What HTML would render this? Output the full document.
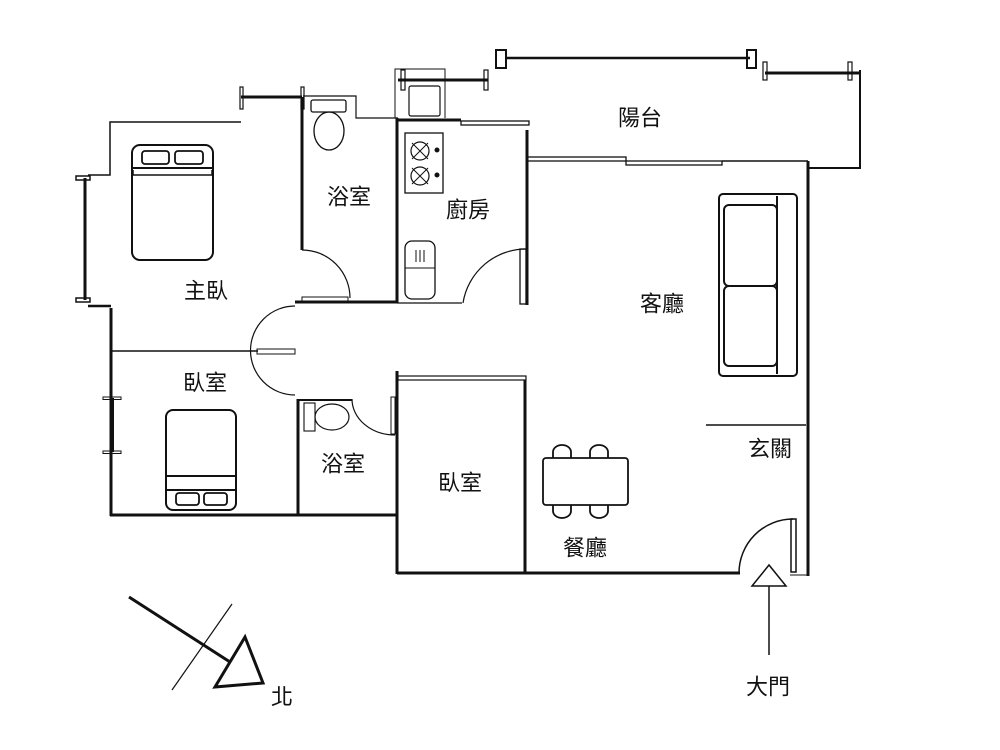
<!DOCTYPE html>
<html><head><meta charset="utf-8"><style>
html,body{margin:0;padding:0;background:#fff;}
svg{display:block}
text{font-family:"Liberation Sans","Noto Sans CJK TC",sans-serif;font-size:22px;fill:#111;text-anchor:middle;dominant-baseline:central}
</style></head><body>
<svg width="1000" height="750" viewBox="0 0 1000 750" xmlns="http://www.w3.org/2000/svg" fill="none" stroke="#111">
<g stroke-width="1.5">
<polyline points="241,122 110,122 110,175 88,175"/>
<line x1="85" y1="178" x2="85" y2="300" stroke-width="3"/>
<rect x="76" y="176" width="14" height="4" stroke-width="1.5"/>
<rect x="76" y="298" width="14" height="4" stroke-width="1.5"/>
<line x1="88" y1="306" x2="111" y2="306" stroke-width="2.5"/>
</g>
<line x1="111" y1="308" x2="111" y2="516" stroke-width="3"/>
<line x1="241" y1="97" x2="302" y2="97" stroke-width="3"/>
<rect x="240" y="87" width="3" height="22" stroke-width="1.2"/>
<rect x="301" y="87" width="3" height="22" stroke-width="1.2"/>
<line x1="302" y1="97" x2="302" y2="250" stroke-width="3"/>
<polyline points="303,96 356,96 356,118 398,118" stroke-width="1.2"/>
<path d="M302,250 A48,48 0 0 1 350,298" stroke-width="1.2"/>
<rect x="302" y="297" width="46" height="4" stroke-width="1"/>
<line x1="295" y1="302" x2="398" y2="302" stroke-width="3"/>
<rect x="311" y="100" width="35" height="12" rx="2" stroke-width="1.3"/>
<ellipse cx="329" cy="131" rx="15" ry="19" stroke-width="1.3"/>
<line x1="397" y1="118" x2="397" y2="303" stroke-width="3"/>
<line x1="397" y1="120" x2="461" y2="120" stroke-width="3"/>
<rect x="461" y="121" width="68" height="4" stroke-width="1.3"/>
<line x1="527" y1="130" x2="527" y2="158" stroke-width="3"/>
<rect x="520" y="249" width="6" height="55" stroke-width="1.3"/>
<path d="M463,303 A64,64 0 0 1 527,249" stroke-width="1.2"/>
<line x1="397" y1="303" x2="462" y2="303" stroke-width="1.2"/>
<polyline points="395,118 395,69 445,69 445,118" stroke-width="1"/>
<rect x="409" y="86" width="31" height="30" rx="2" stroke-width="1.2"/>
<line x1="398" y1="80" x2="488" y2="80" stroke-width="3"/>
<rect x="401" y="70" width="4" height="20" stroke-width="1.2"/>
<rect x="484" y="70" width="4" height="20" stroke-width="1.2"/>
<rect x="405" y="133" width="38" height="60" stroke-width="1.3"/>
<circle cx="420" cy="151" r="9" stroke-width="1.2"/><circle cx="420" cy="176" r="9" stroke-width="1.2"/>
<path d="M412,143 L428,159 M428,143 L412,159 M412,168 L428,184 M428,168 L412,184" stroke-width="1"/>
<circle cx="437" cy="150" r="2" fill="#111"/><circle cx="437" cy="175" r="2" fill="#111"/>
<rect x="405" y="241" width="30" height="58" rx="7" stroke-width="1.3"/>
<line x1="405" y1="268" x2="435" y2="268" stroke-width="1"/>
<path d="M416,250 V262 M420,250 V262 M424,250 V262" stroke-width="1"/>
<line x1="505" y1="58" x2="750" y2="58" stroke-width="2.5"/>
<rect x="496" y="50" width="10" height="18" stroke-width="2"/>
<rect x="747" y="50" width="9" height="18" stroke-width="2"/>
<line x1="765" y1="73" x2="860" y2="73" stroke-width="3"/>
<rect x="763" y="62" width="4" height="18" stroke-width="1.2"/>
<rect x="848" y="62" width="4" height="18" stroke-width="1.2"/>
<line x1="860" y1="70" x2="860" y2="169" stroke-width="2"/>
<line x1="808" y1="168" x2="861" y2="168" stroke-width="2"/>
<line x1="527" y1="158" x2="527" y2="305" stroke-width="3"/>
<rect x="527" y="157" width="99" height="4" stroke-width="1.3"/>
<rect x="626" y="161" width="96" height="4" stroke-width="1.3"/>
<line x1="722" y1="161" x2="808" y2="161" stroke-width="1.5"/>
<line x1="808" y1="161" x2="808" y2="576" stroke-width="3"/>
<line x1="790" y1="575" x2="808" y2="575" stroke-width="1"/>
<rect x="719" y="194" width="78" height="182" rx="4" stroke-width="2"/>
<line x1="777" y1="196" x2="777" y2="374" stroke-width="2"/>
<rect x="724" y="205" width="53" height="81" rx="5" stroke-width="2"/>
<rect x="724" y="286" width="53" height="80" rx="5" stroke-width="2"/>
<line x1="706" y1="425" x2="806" y2="425" stroke-width="1.5"/>
<rect x="791" y="519" width="5" height="53" stroke-width="1.5"/>
<path d="M739,573 A54,54 0 0 1 793,519" stroke-width="1.5"/>
<line x1="397" y1="573" x2="740" y2="573" stroke-width="3"/>
<rect x="543" y="458" width="85" height="47" rx="3" stroke-width="1.8"/>
<path d="M553,458 V452 a9,7 0 0 1 18,0 V458 M590,458 V452 a9,7 0 0 1 18,0 V458" stroke-width="1.8"/>
<path d="M553,505 V511 a9,7 0 0 0 18,0 V505 M590,505 V511 a9,7 0 0 0 18,0 V505" stroke-width="1.8"/>
<line x1="397" y1="371" x2="397" y2="574" stroke-width="3"/>
<rect x="398" y="376" width="128" height="4" stroke-width="1.2"/>
<line x1="525" y1="380" x2="525" y2="573" stroke-width="3"/>
<line x1="110" y1="515" x2="397" y2="515" stroke-width="3"/>
<line x1="298" y1="399" x2="298" y2="515" stroke-width="3"/>
<line x1="298" y1="400" x2="352" y2="400" stroke-width="2"/>
<path d="M352,399 A43,36 0 0 0 395,435" stroke-width="1.2"/>
<rect x="391" y="397" width="4" height="37" stroke-width="1"/>
<rect x="304" y="403" width="11" height="28" stroke-width="1.1"/>
<ellipse cx="332" cy="417" rx="17" ry="13" stroke-width="1.2"/>
<line x1="111" y1="351" x2="258" y2="351" stroke-width="1.5"/>
<rect x="257" y="349" width="38" height="5" stroke-width="1"/>
<path d="M295,306 A44,44 0 0 0 295,395" stroke-width="1.2"/>
<line x1="112" y1="398" x2="112" y2="452" stroke-width="4"/>
<rect x="103" y="397" width="18" height="2.5" stroke-width="1"/>
<rect x="103" y="451" width="18" height="2.5" stroke-width="1"/>
<rect x="132" y="145" width="81" height="115" rx="8" stroke-width="2"/>
<line x1="132" y1="168" x2="213" y2="168" stroke-width="2"/>
<path d="M133,170 V175 H212 V170" stroke-width="1.5"/>
<rect x="142" y="151" width="27" height="13" rx="3" stroke-width="1.8"/>
<rect x="175" y="151" width="28" height="13" rx="3" stroke-width="1.8"/>
<rect x="166" y="410" width="70" height="100" rx="7" stroke-width="2"/>
<line x1="166" y1="476" x2="236" y2="476" stroke-width="2"/>
<line x1="166" y1="490" x2="236" y2="490" stroke-width="2"/>
<rect x="176" y="493" width="23" height="12" rx="3" stroke-width="1.8"/>
<rect x="204" y="493" width="23" height="12" rx="3" stroke-width="1.8"/>
<line x1="129" y1="597" x2="230" y2="662" stroke-width="3"/>
<line x1="232" y1="604" x2="172" y2="690" stroke-width="1.2"/>
<polygon points="245,637 215,687 263,683" stroke-width="3" fill="#fff"/>
<polygon points="752,586 769,565 786,586" stroke-width="1.5" fill="#fff"/>
<line x1="769" y1="586" x2="769" y2="655" stroke-width="1.5"/>
<g stroke="none">
<text x="640" y="118">陽台</text>
<text x="349" y="197">浴室</text>
<text x="468" y="210">廚房</text>
<text x="206" y="291">主臥</text>
<text x="662" y="304">客廳</text>
<text x="205" y="383">臥室</text>
<text x="343" y="464">浴室</text>
<text x="460" y="483">臥室</text>
<text x="770" y="449">玄關</text>
<text x="585" y="548">餐廳</text>
<text x="282" y="697">北</text>
<text x="768" y="687">大門</text>
</g>
</svg>
</body></html>
